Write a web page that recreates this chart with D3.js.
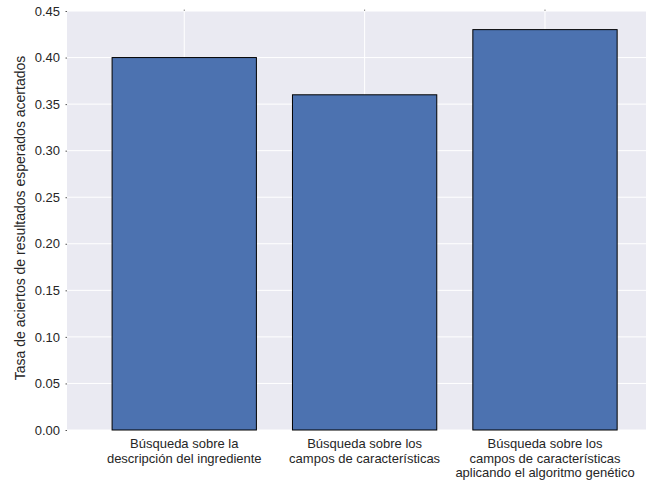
<!DOCTYPE html>
<html><head><meta charset="utf-8">
<script src="https://d3js.org/d3.v7.min.js"></script>
<style>body{margin:0;background:#fff;} text{font-family:"Liberation Sans",Arial,sans-serif;}</style>
</head><body>
<svg id="c" width="646" height="483"></svg>
<script>
const categories = [
  ["Búsqueda sobre la","descripción del ingrediente"],
  ["Búsqueda sobre los","campos de características"],
  ["Búsqueda sobre los","campos de características","aplicando el algoritmo genético"]
];
const values = [0.40, 0.36, 0.43];
const yTicks = [0.00,0.05,0.10,0.15,0.20,0.25,0.30,0.35,0.40,0.45];
const yLabel = "Tasa de aciertos de resultados esperados acertados";

const svg = d3.select("#c");
const L=67, R=646, T=11, B=430;
const x = d3.scaleLinear().domain([-0.25, 2.96]).range([L, R]);
const y = d3.scaleLinear().domain([0, 0.45]).range([B, T]);
const barW = 0.8;

svg.append("rect").attr("x",L).attr("y",T).attr("width",R-L).attr("height",B-T).attr("fill","#EAEAF2");

// grid
svg.append("g").selectAll("line").data(yTicks).join("line")
  .attr("x1",L).attr("x2",R).attr("y1",d=>y(d)).attr("y2",d=>y(d))
  .attr("stroke","#fff").attr("stroke-width",1);
svg.append("g").selectAll("line").data(values).join("line")
  .attr("x1",(d,i)=>x(i+barW/2)).attr("x2",(d,i)=>x(i+barW/2)).attr("y1",T).attr("y2",B)
  .attr("stroke","#fff").attr("stroke-width",1);

// bars
svg.append("g").selectAll("rect").data(values).join("rect")
  .attr("x",(d,i)=>x(i)).attr("width",(d,i)=>x(i+barW)-x(i))
  .attr("y",d=>y(d)).attr("height",d=>B-y(d))
  .attr("fill","#4C72B0").attr("stroke","#000").attr("stroke-width",1);

// y axis
const yAxis = d3.axisLeft(y).tickValues(yTicks).tickFormat(d3.format(".2f")).tickSize(1.5).tickPadding(5.5);
const gy = svg.append("g").attr("transform",`translate(${L},0)`).call(yAxis);
gy.select(".domain").remove();
gy.selectAll(".tick line").attr("stroke","#555");
gy.selectAll("text").attr("fill","#262626").style("font-size","13px").style("font-family","Liberation Sans, Arial, sans-serif");

// x ticks
const gx = svg.append("g");
gx.selectAll("line").data(values).join("line")
  .attr("x1",(d,i)=>x(i+barW/2)).attr("x2",(d,i)=>x(i+barW/2)).attr("y1",T-1.5).attr("y2",T)
  .attr("stroke","#888");
const lbl = gx.selectAll("text").data(categories).join("text")
  .attr("text-anchor","middle").attr("fill","#262626").style("font-size","13px")
  .attr("transform",(d,i)=>`translate(${x(i+barW/2)},448)`);
lbl.selectAll("tspan").data(d=>d).join("tspan")
  .attr("x",0).attr("y",(d,j)=>j*14.6).text(d=>d);

svg.append("text").attr("transform",`translate(25,218) rotate(-90)`)
  .attr("text-anchor","middle").attr("fill","#262626").style("font-size","14px").text(yLabel);
</script>
</body></html>
